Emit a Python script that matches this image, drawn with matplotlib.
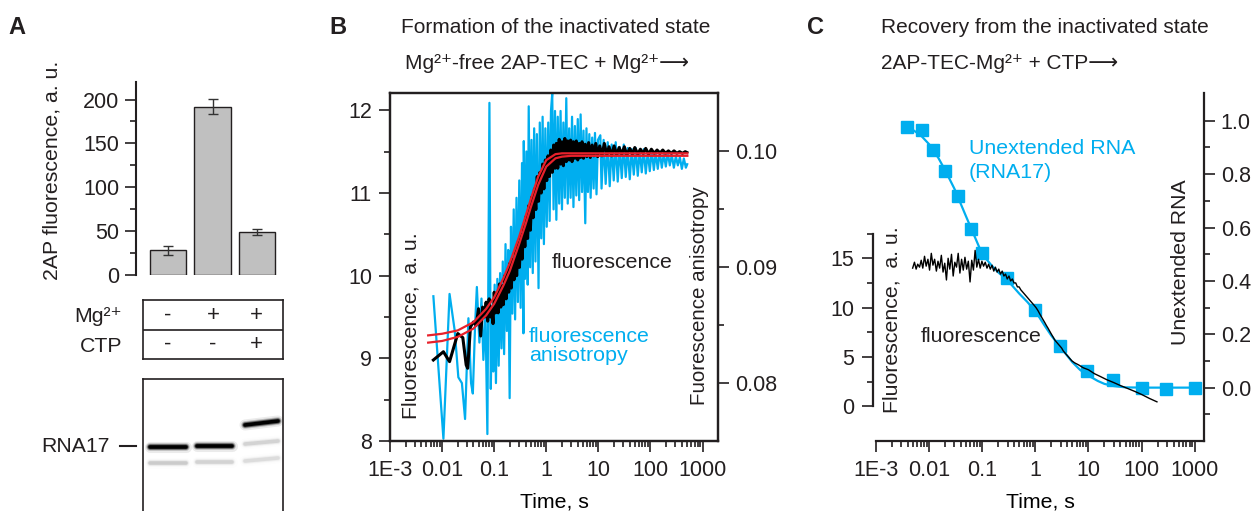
import matplotlib
matplotlib.use("Agg")
import matplotlib.pyplot as plt
import numpy as np
from matplotlib.ticker import FixedLocator, NullFormatter, FixedFormatter, LogLocator

plt.rcParams['font.family'] = ['Liberation Sans', 'DejaVu Sans']
plt.rcParams['text.color'] = '#231f20'

# ---------------- data ----------------
# panel A: bars
bar_vals = [28, 192, 49]
bar_err = [4.7, 8.3, 3.0]
mg_signs = ['-', '+', '+']
ctp_signs = ['-', '-', '+']
# gel bands: (lane, y_left, y_right, darkness)
gel_lanes = [(150, 186), (197, 232), (245, 278)]
gel_bands = [(0, 447, 447, 1.0), (0, 463, 463, 0.12),
             (1, 446, 446, 1.0), (1, 462, 462, 0.10),
             (2, 425, 421, 1.0), (2, 444, 441, 0.10), (2, 461, 458, 0.08)]

# panel B: fluorescence anisotropy trace (time s, anisotropy)
anis_t = [0.0068, 0.0106, 0.0139, 0.0175, 0.0205, 0.0240, 0.0276, 0.0320, 0.0360, 0.0389,
          0.0430, 0.0465, 0.0520, 0.0570, 0.0620, 0.0680, 0.0740, 0.0810, 0.0860, 0.0910,
          0.0960, 0.1020, 0.1080, 0.1150, 0.1220, 0.1300, 0.1380, 0.1460, 0.1550, 0.1650,
          0.1750, 0.1860, 0.1980, 0.2100, 0.2230, 0.2370, 0.2520, 0.2680, 0.2850, 0.3030,
          0.3220, 0.3420, 0.3640, 0.3700, 0.3900, 0.4150, 0.4400, 0.4600, 0.4900, 0.5200,
          0.5500, 0.5850, 0.6200, 0.6600, 0.7100, 0.7500, 0.8000, 0.8500, 0.9000, 0.9600,
          1.0200, 1.0900, 1.1600, 1.2300, 1.3000, 1.3800, 1.4700, 1.5600, 1.6600, 1.7700,
          1.8800, 2.0000, 2.1300, 2.2700, 2.4200, 2.5800, 2.7500, 2.9300, 3.1200, 3.3200,
          3.5400, 3.7700, 4.0200, 4.2800, 4.5600, 4.8600, 5.1800, 5.6000, 5.9000, 6.3000,
          6.7000, 7.1000, 7.6000, 8.1000, 8.6000, 9.2000, 9.8000, 10.900, 11.500, 12.600,
          13.800, 15.100, 16.500, 18.000, 19.700, 21.500, 23.500, 25.700, 28.100, 30.700,
          33.500, 36.600, 40.000, 43.700, 47.800, 52.200, 57.000, 62.300, 68.000, 74.300,
          81.200, 88.700, 96.900, 106.00, 116.00, 126.00, 138.00, 151.00, 165.00, 180.00,
          197.00, 215.00, 235.00, 257.00, 281.00, 307.00, 335.00, 366.00, 400.00, 437.00,
          478.00, 507.00]
anis_v = [0.0875, 0.0752, 0.0877, 0.0845, 0.0805, 0.0800, 0.0769, 0.0856, 0.0800, 0.0791,
          0.0850, 0.0883, 0.0835, 0.0873, 0.0820, 0.0860, 0.0756, 0.1042, 0.0795, 0.0865,
          0.0810, 0.0885, 0.0800, 0.0890, 0.0815, 0.0895, 0.0830, 0.0905, 0.0825, 0.0920,
          0.0845, 0.0915, 0.0787, 0.0935, 0.0860, 0.0950, 0.0855, 0.0960, 0.0870, 0.0975,
          0.0865, 0.0990, 0.0843, 0.1009, 0.0890, 0.1000, 0.0885, 0.1039, 0.0900, 0.1010,
          0.0895, 0.1020, 0.0905, 0.1015, 0.0882, 0.1025, 0.0925, 0.1030, 0.0920, 0.1020,
          0.0935, 0.1025, 0.0940, 0.1035, 0.1050, 0.0950, 0.1035, 0.0941, 0.1030, 0.0955,
          0.1035, 0.0950, 0.1025, 0.0960, 0.1046, 0.0955, 0.1020, 0.0960, 0.1030, 0.0952,
          0.1022, 0.0962, 0.1028, 0.0958, 0.1032, 0.0965, 0.1018, 0.0938, 0.1020, 0.0965,
          0.1015, 0.0960, 0.1012, 0.0968, 0.1016, 0.0963, 0.1010, 0.1014, 0.0968, 0.1010,
          0.0972, 0.1008, 0.0970, 0.1006, 0.0975, 0.1008, 0.0974, 0.1004, 0.0977, 0.1006,
          0.0978, 0.1003, 0.0976, 0.1002, 0.0980, 0.1003, 0.0979, 0.1001, 0.0982, 0.1002,
          0.0981, 0.1000, 0.0983, 0.1001, 0.0984, 0.0999, 0.0985, 0.1000, 0.0986, 0.0998,
          0.0987, 0.0999, 0.0988, 0.0997, 0.0986, 0.0996, 0.0988, 0.0995, 0.0985, 0.0994,
          0.0986, 0.0989]

# panel B: fluorescence trace (time s, a.u.)
fluB_t = [0.0068, 0.0106, 0.0139, 0.0200, 0.0250, 0.0290, 0.0310, 0.0350, 0.0400, 0.0450,
          0.0500, 0.0550, 0.0600, 0.0650, 0.0700, 0.0750, 0.0800, 0.0850, 0.0900, 0.0950,
          0.1000, 0.1060, 0.1120, 0.1190, 0.1260, 0.1340, 0.1420, 0.1500, 0.1600, 0.1700,
          0.1800, 0.1900, 0.2000, 0.2130, 0.2260, 0.2400, 0.2550, 0.2700, 0.2870, 0.3050,
          0.3240, 0.3440, 0.3650, 0.3880, 0.4120, 0.4380, 0.4650, 0.4940, 0.5250, 0.5580,
          0.5930, 0.6300, 0.6700, 0.7100, 0.7550, 0.8000, 0.8500, 0.9000, 0.9600, 1.0200,
          1.0800, 1.1500, 1.2200, 1.3000, 1.3800, 1.4700, 1.5600, 1.6600, 1.7700, 1.8800,
          2.0000, 2.1300, 2.2700, 2.4200, 2.5800, 2.7500, 2.9300, 3.1200, 3.3200, 3.5400,
          3.7700, 4.0200, 4.2800, 4.5600, 4.8600, 5.1800, 5.6000, 6.0000, 6.5000, 7.0000,
          7.6000, 8.2000, 8.9000, 9.7000, 10.600, 11.700, 13.000, 14.500, 16.000, 18.000,
          20.000, 22.500, 25.000, 28.000, 31.500, 35.000, 40.000, 45.000, 50.000, 57.000,
          64.000, 72.000, 81.000, 92.000, 104.00, 118.00, 134.00, 152.00, 172.00, 195.00,
          221.00, 250.00, 283.00, 320.00, 362.00, 410.00, 464.00, 500.00]
fluB_v = [8.98, 9.08, 8.96, 9.30, 9.25, 8.92, 8.88, 9.38, 9.44, 9.40,
          9.60, 9.27, 9.62, 9.50, 9.68, 9.45, 9.72, 9.50, 9.62, 9.42,
          9.80, 9.55, 9.78, 9.55, 9.90, 9.62, 9.88, 9.65, 10.00, 9.72,
          10.05, 9.80, 10.15, 9.85, 10.20, 9.95, 10.30, 10.00, 10.40, 10.10,
          10.50, 10.20, 10.60, 10.35, 10.72, 10.45, 10.85, 10.55, 10.95, 10.70,
          11.05, 10.80, 11.20, 10.90, 11.25, 11.00, 11.35, 11.05, 11.40, 11.15,
          11.45, 11.20, 11.52, 11.25, 11.58, 11.30, 11.60, 11.30, 11.65, 11.35,
          11.62, 11.33, 11.66, 11.38, 11.63, 11.40, 11.64, 11.38, 11.62, 11.42,
          11.63, 11.40, 11.60, 11.43, 11.62, 11.42, 11.59, 11.44, 11.61, 11.43,
          11.58, 11.45, 11.60, 11.44, 11.57, 11.45, 11.60, 11.46, 11.56, 11.45,
          11.57, 11.46, 11.55, 11.47, 11.56, 11.46, 11.54, 11.47, 11.55, 11.47,
          11.53, 11.48, 11.54, 11.47, 11.53, 11.48, 11.52, 11.48, 11.52, 11.48,
          11.51, 11.48, 11.51, 11.48, 11.50, 11.48, 11.50, 11.49]

# panel B: fitted curves
fit_t = [0.0054, 0.01, 0.02, 0.04, 0.07, 0.1, 0.15, 0.2, 0.3, 0.4,
         0.5, 0.7, 1.0, 1.5, 2.0, 3.0, 5.0, 10.0, 100.0, 510.0]
fit_flu = [9.19, 9.21, 9.26, 9.36, 9.52, 9.66, 9.88, 10.06, 10.38, 10.62,
           10.82, 11.10, 11.32, 11.42, 11.44, 11.45, 11.45, 11.45, 11.45, 11.45]
fit_anis = [0.08412, 0.08426, 0.08455, 0.08526, 0.08641, 0.08741, 0.08905, 0.09041, 0.09262, 0.09441,
            0.09584, 0.09784, 0.09926, 0.09977, 0.09984, 0.09984, 0.09984, 0.09984, 0.09984, 0.09984]

# panel C: unextended RNA (time s, fraction)
rna_t = [0.00387, 0.0072, 0.0119, 0.0198, 0.0352, 0.0627, 0.1, 0.294, 1.0, 2.95,
         9.6, 28.8, 100, 288, 1000]
rna_v = [0.975, 0.964, 0.891, 0.812, 0.718, 0.594, 0.503, 0.409, 0.290, 0.156,
         0.061, 0.027, 0.0, -0.006, 0.0]
rna_fit_t = [0.0032, 0.005, 0.007, 0.01, 0.015, 0.02, 0.03, 0.05, 0.07, 0.1,
             0.15, 0.2, 0.3, 0.5, 0.7, 1.0, 1.5, 2.0, 3.0, 5.0,
             7.0, 10.0, 15.0, 20.0, 30.0, 50.0, 100.0, 300.0, 1000.0]
rna_fit_v = [0.980, 0.965, 0.945, 0.912, 0.860, 0.815, 0.745, 0.640, 0.572, 0.500,
             0.458, 0.432, 0.402, 0.352, 0.322, 0.287, 0.232, 0.195, 0.150, 0.095,
             0.066, 0.045, 0.025, 0.014, 0.006, 0.001, 0.0, 0.0, 0.0]

# panel C: fluorescence trace
fluC_t = [0.0049, 0.0053, 0.0057, 0.0061, 0.0066, 0.0071, 0.0076, 0.0082, 0.0088, 0.0095,
          0.0102, 0.0110, 0.0118, 0.0127, 0.0137, 0.0147, 0.0158, 0.0170, 0.0183, 0.0197,
          0.0212, 0.0228, 0.0245, 0.0264, 0.0284, 0.0305, 0.0328, 0.0353, 0.0380, 0.0409,
          0.0440, 0.0473, 0.0509, 0.0548, 0.0590, 0.0635, 0.0683, 0.0735, 0.0791, 0.0851,
          0.0916, 0.0986, 0.106, 0.114, 0.123, 0.132, 0.142, 0.153, 0.165, 0.177,
          0.191, 0.205, 0.221, 0.238, 0.256, 0.275, 0.296, 0.319, 0.343, 0.369,
          0.397, 0.428, 0.460, 0.495, 0.533, 0.574, 0.618, 0.665, 0.716, 0.770,
          0.829, 0.893, 0.961, 1.03, 1.12, 1.20, 1.29, 1.39, 1.50, 1.61,
          1.74, 1.87, 2.01, 2.17, 2.33, 2.51, 2.70, 2.91, 3.13, 3.37,
          3.63, 3.91, 4.21, 4.53, 4.88, 5.5, 6.5, 8.0, 10.0, 13.0,
          17.0, 22.0, 30.0, 40.0, 55.0, 75.0, 100.0, 140.0, 195.0]
fluC_v = [14.0, 14.6, 13.9, 14.4, 14.1, 14.8, 14.0, 15.2, 14.2, 14.9,
          13.8, 15.5, 14.3, 14.9, 13.7, 14.7, 14.0, 15.3, 13.6, 14.5,
          12.8, 15.0, 13.9, 15.4, 13.2, 14.6, 14.1, 15.5, 13.5, 14.9,
          13.8, 15.1, 13.9, 14.7, 12.6, 14.8, 13.8, 15.8, 14.1, 14.9,
          14.0, 14.7, 14.2, 14.6, 14.0, 14.4, 13.9, 14.3, 13.7, 14.1,
          13.6, 13.9, 13.4, 13.7, 13.2, 13.4, 12.9, 13.2, 12.7, 12.9,
          12.5, 12.5, 12.1, 12.1, 11.8, 11.6, 11.4, 11.2, 11.0, 10.8,
          10.6, 10.4, 10.2, 10.0, 9.7, 9.4, 9.1, 8.8, 8.5, 8.2,
          7.9, 7.6, 7.3, 7.0, 6.7, 6.5, 6.3, 6.1, 5.9, 5.6,
          5.4, 5.2, 5.0, 4.8, 4.6, 4.4, 4.2, 3.9, 3.7, 3.3,
          3.0, 2.7, 2.4, 2.1, 1.8, 1.5, 1.2, 0.8, 0.45]

log_ticks = [1e-3, 1e-2, 1e-1, 1, 10, 100, 1000]
log_labels = ['1E-3', '0.01', '0.1', '1', '10', '100', '1000']

BLUE = '#00aeef'
RED = '#e8212b'
INK = '#231f20'
TICK_FS = 15.5
LABEL_FS = 15.3
NOTE_FS = 15.4
TITLE_FS = 15

W, H = 1255, 511
fig = plt.figure(figsize=(W / 100, H / 100), dpi=100)


def rect(l, t, r, b):
    return [l / W, 1 - b / H, (r - l) / W, (b - t) / H]


def ftext(x, y, s, **kw):
    fig.text(x / W, 1 - y / H, s, **kw)


def style_ticks(ax):
    ax.tick_params(which='major', length=8, width=1.2, direction='out', labelsize=TICK_FS, colors=INK)
    ax.tick_params(which='minor', length=4.5, width=1.2, direction='out', colors=INK)


def log_xaxis(ax, xmax):
    ax.set_xscale('log')
    ax.set_xlim(1e-3, xmax)
    ax.xaxis.set_major_locator(FixedLocator(log_ticks))
    ax.xaxis.set_major_formatter(FixedFormatter(log_labels))
    ax.xaxis.set_minor_locator(LogLocator(base=10, subs=np.arange(2, 10), numticks=20))
    ax.xaxis.set_minor_formatter(NullFormatter())
    ax.tick_params(axis='x', which='major', pad=6)


# ---------------- panel A ----------------
axA = fig.add_axes(rect(136, 82, 285, 275))
xs = np.arange(len(bar_vals))
axA.bar(xs, bar_vals, width=0.81, color='#c0c0c0', edgecolor=INK, linewidth=1.0, zorder=2)
axA.errorbar(xs, bar_vals, yerr=bar_err, fmt='none', ecolor='#333333', elinewidth=1.0,
             capsize=3.5, capthick=1.0, zorder=3)
axA.set_xlim(-0.719, 2.629)
axA.set_ylim(0, 220)
axA.set_yticks([0, 50, 100, 150, 200])
axA.set_yticks([25, 75, 125, 175], minor=True)
axA.set_xticks([])
for s in ['top', 'right', 'bottom']:
    axA.spines[s].set_visible(False)
axA.spines['left'].set_linewidth(1.5)
axA.spines['left'].set_color(INK)
style_ticks(axA)
axA.tick_params(axis='y', pad=4)
ftext(52, 170, '2AP fluorescence, a. u.', rotation=90, ha='center', va='center', fontsize=LABEL_FS)

# table of conditions
axT = fig.add_axes(rect(143, 300, 283, 359))
axT.set_xlim(0, 1)
axT.set_ylim(0, 1)
axT.set_xticks([])
axT.set_yticks([])
for s in axT.spines.values():
    s.set_linewidth(1.2)
    s.set_color(INK)
axT.axhline(0.5, color=INK, lw=1.2)
col_x = [0.179, 0.5, 0.807]
for cx, m, c in zip(col_x, mg_signs, ctp_signs):
    axT.text(cx, 0.74, m, ha='center', va='center', fontsize=16)
    axT.text(cx, 0.25, c, ha='center', va='center', fontsize=16)
ftext(122, 316, 'Mg²⁺', ha='right', va='center', fontsize=LABEL_FS)
ftext(122, 346, 'CTP', ha='right', va='center', fontsize=LABEL_FS)

# gel image
axG = fig.add_axes(rect(143, 379, 283, 515))
axG.set_xlim(143, 283)
axG.set_ylim(515, 379)
axG.set_xticks([])
axG.set_yticks([])
for s in axG.spines.values():
    s.set_linewidth(1.2)
    s.set_color(INK)
for lane, yl, yr, dark in gel_bands:
    x0, x1 = gel_lanes[lane]
    for lw, a in [(8, 0.08), (5.5, 0.2), (4.0, 0.5), (2.6, 1.0)]:
        axG.plot([x0, x1], [yl, yr], color='black', lw=lw, alpha=a * dark,
                 solid_capstyle='round')
ftext(110, 446, 'RNA17', ha='right', va='center', fontsize=LABEL_FS)
fig.add_artist(plt.Line2D([120 / W, 136 / W], [1 - 446 / H, 1 - 446 / H], color=INK, lw=1.5))

# ---------------- panel B ----------------
axB = fig.add_axes(rect(390, 93, 718, 441))
axBr = axB.twinx()
axBf = axB.twinx()
axBr.set_zorder(1)
axB.set_zorder(2)
axBf.set_zorder(3)
axB.patch.set_visible(False)
axBf.patch.set_visible(False)

axBr.plot(anis_t, anis_v, color=BLUE, lw=1.6, zorder=2)
axB.plot(fluB_t, fluB_v, color='black', lw=2.2, zorder=2)
axB.plot(fit_t, fit_flu, color=RED, lw=1.6, zorder=3)
axBf.plot(fit_t, fit_anis, color=RED, lw=1.6, zorder=3)

for a in (axB, axBr, axBf):
    log_xaxis(a, 1977)
axB.set_ylim(8, 12.21)
axBr.set_ylim(0.075, 0.10505)
axBf.set_ylim(0.075, 0.10505)
axB.set_yticks([8, 9, 10, 11, 12])
axB.set_yticks([8.5, 9.5, 10.5, 11.5], minor=True)
axBr.set_yticks([0.08, 0.09, 0.10])
axBr.set_yticklabels(['0.08', '0.09', '0.10'])
axBr.set_yticks([0.085, 0.095], minor=True)
for a in (axB, axBr):
    style_ticks(a)
    for s in a.spines.values():
        s.set_linewidth(1.6)
        s.set_color(INK)
axB.tick_params(axis='y', pad=5)
axBr.tick_params(axis='y', pad=4)
axBr.tick_params(axis='x', which='both', bottom=False, labelbottom=False)
axBf.axis('off')
axB.set_xlabel('Time, s', fontsize=LABEL_FS, labelpad=8)

ftext(411, 326, 'Fluorescence,  a. u.', rotation=90, ha='center', va='center', fontsize=LABEL_FS)
ftext(700, 296, 'Fuorescence anisotropy', rotation=90, ha='center', va='center', fontsize=14.8)
ftext(552, 262, 'fluorescence', ha='left', va='center', fontsize=NOTE_FS)
ftext(529, 336, 'fluorescence', ha='left', va='center', fontsize=NOTE_FS, color=BLUE)
ftext(529, 355, 'anisotropy', ha='left', va='center', fontsize=NOTE_FS, color=BLUE)

ftext(556, 27, 'Formation of the inactivated state', ha='center', va='center', fontsize=TITLE_FS)
ftext(547, 63, 'Mg²⁺-free 2AP-TEC + Mg²⁺⟶', ha='center', va='center', fontsize=TITLE_FS)

# ---------------- panel C ----------------
axC = fig.add_axes(rect(876, 93, 1204, 441))
axCr = axC.twinx()
axCr.set_zorder(1)
axC.set_zorder(2)
axC.patch.set_visible(False)

axCr.plot(rna_fit_t, rna_fit_v, color=BLUE, lw=1.6, zorder=2)
axCr.plot(rna_t, rna_v, 's', color=BLUE, ms=8.5, zorder=3)
axC.plot(fluC_t, fluC_v, color='black', lw=1.0, zorder=2)

for a in (axC, axCr):
    log_xaxis(a, 1500)
axC.set_ylim(-3.52, 31.75)
axCr.set_ylim(-0.2, 1.104)
axC.set_yticks([0, 5, 10, 15])
axC.set_yticks([2.5, 7.5, 12.5, 17.5], minor=True)
axCr.set_yticks([0.0, 0.2, 0.4, 0.6, 0.8, 1.0])
axCr.set_yticklabels(['0.0', '0.2', '0.4', '0.6', '0.8', '1.0'])
axCr.set_yticks([-0.1, 0.1, 0.3, 0.5, 0.7, 0.9], minor=True)
for a in (axC, axCr):
    style_ticks(a)
    for s in a.spines.values():
        s.set_linewidth(1.6)
        s.set_color(INK)
    a.spines['top'].set_visible(False)
axC.spines['right'].set_visible(False)
axC.spines['left'].set_bounds(0, 17.5)
axC.spines['left'].set_position(('outward', 2.5))
axCr.spines['left'].set_visible(False)
axCr.spines['bottom'].set_visible(False)
axC.tick_params(axis='y', pad=5)
axCr.tick_params(axis='y', pad=4)
axCr.tick_params(axis='x', which='both', bottom=False, labelbottom=False)
axC.set_xlabel('Time, s', fontsize=LABEL_FS, labelpad=8)

ftext(892, 320, 'Fluorescence,  a. u.', rotation=90, ha='center', va='center', fontsize=LABEL_FS)
ftext(1180, 262, 'Unextended RNA', rotation=90, ha='center', va='center', fontsize=LABEL_FS)
ftext(969, 148, 'Unextended RNA', ha='left', va='center', fontsize=NOTE_FS, color=BLUE)
ftext(969, 172, '(RNA17)', ha='left', va='center', fontsize=NOTE_FS, color=BLUE)
ftext(921, 336, 'fluorescence', ha='left', va='center', fontsize=NOTE_FS)

ftext(1045, 27, 'Recovery from the inactivated state', ha='center', va='center', fontsize=TITLE_FS)
ftext(1000, 63, '2AP-TEC-Mg²⁺ + CTP⟶', ha='center', va='center', fontsize=TITLE_FS)

# panel letters
ftext(17, 27, 'A', ha='center', va='center', fontsize=17, fontweight='bold')
ftext(338, 27, 'B', ha='center', va='center', fontsize=17, fontweight='bold')
ftext(816, 27, 'C', ha='center', va='center', fontsize=17, fontweight='bold')

fig.savefig('out.png', dpi=100)
